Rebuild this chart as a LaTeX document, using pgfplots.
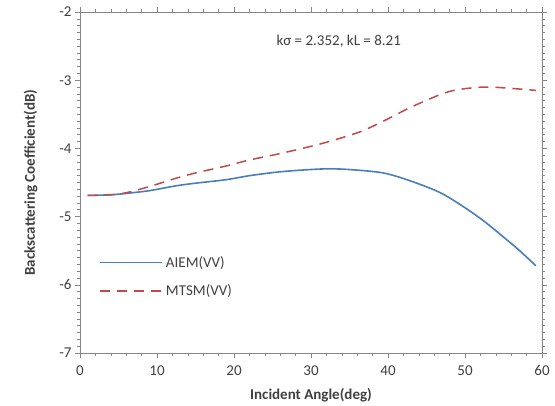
\documentclass[border=0pt]{standalone}
\usepackage{pgfplots}
\pgfplotsset{compat=1.18}
\usepackage{fontspec}
\setmainfont{Carlito}
\definecolor{aiem}{RGB}{74,126,187}
\definecolor{mtsm}{RGB}{190,75,72}
\definecolor{axgray}{RGB}{134,134,134}
\definecolor{txgray}{RGB}{64,64,64}
\begin{document}
\begin{tikzpicture}
\begin{axis}[name=ax,
  scale only axis, width=462pt, height=341pt,
  xmin=0, xmax=60, ymin=-7, ymax=-2,
  xtick={0,10,...,60}, ytick={-7,-6,...,-2},
  minor x tick num=4, minor y tick num=9,
  tick align=outside,
  major tick length=5pt, minor tick length=3pt,
  axis line style={axgray, line width=0.8pt},
  every tick/.style={axgray, line width=0.6pt},
  /pgf/number format/assume math mode=true,
  tick label style={font=\fontsize{15}{17}\selectfont, text=txgray},
  xticklabel style={yshift=-4pt},
  xlabel={\textbf{Incident Angle(deg)}},
  ylabel={\textbf{Backscattering Coefficient(dB)}},
  label style={font=\fontsize{15}{17}\selectfont, text=txgray},
  xlabel style={yshift=-6pt},
  ylabel style={yshift=15pt},
  legend style={draw=none, fill=none, at={(axis cs:2.1,-5.52)}, anchor=north west,
    font=\fontsize{15}{17}\selectfont, row sep=12pt},
  legend cell align=left,
  legend image code/.code={\draw[#1] (0pt,0pt) -- (62pt,0pt);},
  clip=false,
]
\addplot[color=aiem, line width=1.6pt, smooth] coordinates {
(1,-4.69)(4,-4.68)(6,-4.66)(9,-4.62)(12.4,-4.55)(15,-4.51)(18.9,-4.46)(22,-4.40)(25.4,-4.35)(28.5,-4.32)(32,-4.30)(35,-4.31)(39.4,-4.36)(43,-4.48)(46.8,-4.65)(50,-4.87)(52.5,-5.07)(55,-5.30)(57,-5.49)(59.2,-5.72)};
\addlegendentry{\hspace{1pt}\textcolor{txgray}{AIEM(VV)}}
\addplot[color=mtsm, line width=1.5pt, smooth, dash pattern=on 10pt off 7pt] coordinates {
(1,-4.69)(4,-4.68)(6,-4.65)(9,-4.56)(12.4,-4.44)(15,-4.36)(18.9,-4.26)(22,-4.17)(25.4,-4.09)(28.5,-4.01)(32,-3.91)(36.3,-3.76)(39.4,-3.60)(42.9,-3.40)(46.8,-3.21)(49,-3.14)(52.5,-3.10)(56,-3.12)(59.2,-3.15)};
\addlegendentry{\hspace{1pt}\textcolor{txgray}{MTSM(VV)}}
\node[font=\fontsize{15}{17}\selectfont, text=txgray] at (axis cs:33.6,-2.43) {kσ = 2.352, kL = 8.21};
\end{axis}
\path ([xshift=-80pt,yshift=-50pt]ax.south west) rectangle ([xshift=13pt,yshift=12pt]ax.north east);
\end{tikzpicture}
\end{document}
